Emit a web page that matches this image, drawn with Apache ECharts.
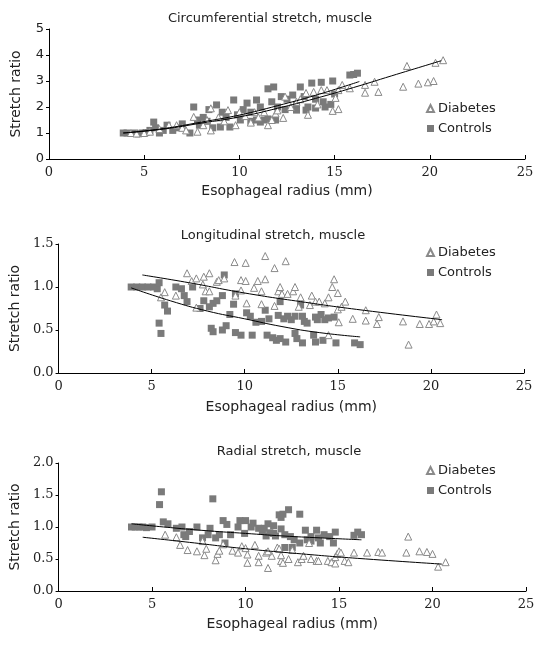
<!DOCTYPE html>
<html>
<head>
<meta charset="utf-8">
<script src="https://cdn.jsdelivr.net/npm/echarts@6/dist/echarts.min.js"></script>
<style>html,body{margin:0;padding:0;background:#fff}#c{width:541px;height:645px}</style>
</head>
<body>
<div id="c"></div>
<script>
// ---------- data ----------
const panelTitles = ['Circumferential stretch, muscle', 'Longitudinal stretch, muscle', 'Radial stretch, muscle'];
const xAxisName = 'Esophageal radius (mm)';
const yAxisName = 'Stretch ratio';
const seriesNames = ['Diabetes', 'Controls'];
const xTicks = [0, 5, 10, 15, 20, 25];
const yRanges = [[0, 5, 1], [0, 1.5, 0.5], [0, 2, 0.5]];

// Panel 1: circumferential
const circControls = [[3.9,1.0],[4.1,1.0],[4.3,0.98],[4.5,1.0],[4.7,0.97],[4.9,1.0],[5.1,1.02],[5.3,1.1],[5.5,1.42],[5.6,1.2],[5.8,1.0],[6.0,1.1],[6.2,1.3],[6.5,1.1],[6.8,1.2],[7.0,1.35],[7.4,1.0],[7.6,2.0],[7.8,1.5],[7.9,1.3],[8.1,1.6],[8.3,1.45],[8.4,1.9],[8.6,1.2],[8.8,2.08],[9.0,1.23],[9.1,1.8],[9.3,1.6],[9.5,1.23],[9.7,2.27],[9.9,1.7],[10.05,1.5],[10.2,1.9],[10.4,2.15],[10.6,1.45],[10.6,1.8],[10.9,2.27],[10.9,1.5],[11.1,2.0],[11.1,1.42],[11.3,1.5],[11.5,2.7],[11.5,1.54],[11.7,2.2],[11.8,2.77],[11.9,1.5],[12.0,2.0],[12.2,2.4],[12.4,1.9],[12.5,2.3],[12.8,2.46],[13.0,1.88],[13.0,2.1],[13.2,2.77],[13.4,2.4],[13.5,1.88],[13.6,2.0],[13.8,2.92],[14.0,1.96],[14.0,2.3],[14.3,2.95],[14.4,2.2],[14.5,2.0],[14.8,2.1],[14.9,3.0],[15.0,2.5],[15.8,3.23],[16.0,3.25],[16.2,3.3]];
const circDiabetes = [[4.3,1.0],[4.6,0.98],[5.0,1.0],[5.3,1.05],[5.8,1.15],[6.3,1.3],[6.7,1.3],[7.0,1.2],[7.2,1.1],[7.6,1.62],[7.8,1.05],[8.1,1.3],[8.3,1.5],[8.5,1.95],[8.5,1.1],[8.9,1.6],[9.2,1.45],[9.4,1.88],[9.8,1.3],[10.0,1.8],[10.3,1.65],[10.6,1.4],[10.8,1.8],[11.0,1.6],[11.3,1.8],[11.5,1.3],[11.7,1.5],[11.9,1.75],[12.0,1.87],[12.3,1.58],[12.4,2.4],[12.7,2.0],[13.0,2.2],[13.2,2.3],[13.5,2.54],[13.6,1.7],[13.9,2.58],[14.1,2.1],[14.3,2.65],[14.6,2.65],[14.9,1.85],[15.05,2.35],[15.2,1.92],[15.2,2.65],[15.4,2.85],[15.8,2.72],[16.6,2.85],[16.6,2.55],[17.1,2.97],[17.3,2.58],[18.6,2.78],[18.8,3.58],[19.4,2.9],[19.9,2.95],[20.2,3.0],[20.3,3.7],[20.7,3.8]];
const circFitControls = [[3.9,1.0],[6,1.17],[8,1.42],[10,1.69],[12,2.05],[14,2.45],[16.3,2.98]];
const circFitDiabetes = [[3.9,1.0],[6,1.15],[8,1.38],[10,1.62],[12,1.95],[14,2.33],[16,2.75],[18,3.2],[20.6,3.78]];

// Panel 2: longitudinal
const longControls = [[3.9,1.0],[4.2,1.0],[4.5,1.0],[4.8,1.0],[5.1,1.0],[5.3,0.98],[5.4,1.05],[5.4,0.58],[5.5,0.46],[5.7,0.79],[5.85,0.72],[6.3,1.0],[6.6,0.98],[6.75,0.9],[6.9,0.83],[7.2,1.0],[7.6,0.75],[7.8,0.84],[8.1,0.77],[8.2,0.52],[8.3,0.48],[8.3,0.81],[8.5,0.84],[8.8,0.9],[8.8,0.5],[9.0,0.55],[8.9,1.14],[9.2,0.68],[9.4,0.8],[9.5,0.92],[9.5,0.47],[9.8,0.44],[10.1,0.7],[10.3,0.66],[10.4,0.44],[10.6,0.59],[10.9,0.6],[11.1,0.73],[11.3,0.63],[11.2,0.44],[11.5,0.41],[11.7,0.38],[11.9,0.4],[11.8,0.67],[12.1,0.63],[12.3,0.66],[11.9,0.83],[12.2,0.36],[12.5,0.62],[12.7,0.66],[12.7,0.46],[12.8,0.4],[13.1,0.35],[13.0,0.79],[13.1,0.66],[13.2,0.6],[13.35,0.58],[13.7,0.44],[13.8,0.65],[13.9,0.62],[13.8,0.36],[14.2,0.38],[14.1,0.68],[14.3,0.62],[14.5,0.64],[14.8,0.65],[14.9,0.35],[15.9,0.35],[16.2,0.33]];
const longDiabetes = [[5.5,0.88],[5.7,0.94],[6.3,0.9],[6.9,1.16],[7.15,1.07],[7.4,1.1],[7.4,0.76],[7.75,1.03],[7.8,1.12],[7.9,0.95],[8.1,1.16],[8.1,0.95],[8.5,1.06],[8.6,1.08],[8.9,1.1],[9.45,1.29],[9.5,0.9],[9.8,1.08],[9.8,0.96],[10.05,1.28],[10.05,1.07],[10.1,0.81],[10.5,0.99],[10.7,1.07],[10.9,0.95],[10.9,0.8],[11.1,1.09],[11.1,1.36],[11.6,1.22],[11.6,0.78],[11.8,0.95],[11.9,1.0],[12.0,0.92],[12.2,1.3],[12.3,0.92],[12.6,0.95],[12.7,1.0],[12.9,0.77],[13.0,0.88],[13.5,0.79],[13.6,0.9],[13.8,0.83],[14.0,0.83],[14.3,0.81],[14.5,0.44],[14.5,0.88],[14.7,1.0],[14.8,1.09],[15.0,0.93],[15.0,0.74],[15.05,0.59],[15.2,0.77],[15.4,0.83],[15.8,0.63],[16.5,0.73],[16.5,0.61],[17.1,0.57],[17.2,0.65],[18.5,0.6],[18.8,0.33],[19.4,0.57],[19.9,0.57],[20.15,0.6],[20.3,0.68],[20.5,0.58]];
const longFitControls = [[3.9,0.99],[6,0.84],[8,0.72],[10,0.63],[12,0.54],[14,0.47],[16.2,0.42]];
const longFitDiabetes = [[4.5,1.14],[7,1.05],[10,0.93],[13,0.83],[16,0.74],[20.6,0.62]];

// Panel 3: radial
const radControls = [[3.9,1.0],[4.1,1.0],[4.3,1.0],[4.5,1.0],[4.7,0.99],[5.0,1.0],[5.4,1.35],[5.5,1.55],[5.6,1.08],[5.85,1.05],[6.3,0.98],[6.6,1.0],[6.7,0.88],[6.8,0.85],[7.0,0.93],[7.4,1.0],[7.7,0.83],[8.0,0.88],[8.25,1.44],[8.1,0.98],[8.4,0.83],[8.6,0.88],[8.8,1.1],[9.0,1.04],[8.9,0.75],[9.2,0.88],[9.6,1.0],[9.7,1.1],[9.95,0.9],[10.0,1.1],[10.4,1.06],[10.3,1.0],[10.7,0.98],[10.9,0.93],[11.0,0.98],[11.1,0.86],[11.2,1.05],[11.3,0.91],[11.5,0.9],[11.5,1.02],[11.6,0.86],[11.8,1.19],[11.9,1.15],[11.9,0.97],[12.0,1.2],[12.1,0.88],[12.1,0.68],[12.3,1.27],[12.4,0.85],[12.5,0.68],[12.6,0.8],[12.9,1.2],[12.9,0.75],[13.2,0.95],[13.3,0.8],[13.5,0.78],[13.5,0.85],[13.8,0.95],[13.9,0.83],[14.0,0.75],[14.2,0.88],[14.5,0.85],[14.7,0.75],[14.8,0.92],[15.8,0.87],[16.0,0.92],[16.2,0.88]];
const radDiabetes = [[5.7,0.88],[6.3,0.84],[6.5,0.72],[6.9,0.64],[7.4,0.62],[7.7,0.78],[7.8,0.56],[7.9,0.66],[8.4,0.48],[8.5,0.58],[8.6,0.63],[8.8,0.73],[9.3,0.63],[9.6,0.6],[9.8,0.7],[10.0,0.67],[10.1,0.57],[10.1,0.44],[10.5,0.72],[10.7,0.55],[10.7,0.45],[11.1,0.6],[11.2,0.36],[11.4,0.55],[11.2,0.62],[11.7,0.68],[11.8,0.66],[11.9,0.47],[11.9,0.56],[12.0,0.44],[12.3,0.5],[12.5,0.64],[12.8,0.45],[13.0,0.5],[13.1,0.55],[13.4,0.75],[13.5,0.5],[13.8,0.47],[13.9,0.47],[14.4,0.47],[14.6,0.45],[14.8,0.43],[14.8,0.53],[14.9,0.58],[15.0,0.62],[15.1,0.6],[15.3,0.47],[15.5,0.45],[15.8,0.6],[16.5,0.6],[17.1,0.61],[17.3,0.6],[18.6,0.6],[18.7,0.85],[19.3,0.62],[19.7,0.61],[20.0,0.58],[20.3,0.38],[20.7,0.45]];
const radFitControls = [[3.9,1.05],[6,0.99],[8,0.94],[10,0.9],[12,0.86],[14,0.83],[16.2,0.8]];
const radFitDiabetes = [[4.5,0.84],[7,0.76],[10,0.66],[13,0.58],[16,0.51],[20.5,0.42]];

const panels = [
  {controls: circControls, diabetes: circDiabetes, fitC: circFitControls, fitD: circFitDiabetes},
  {controls: longControls, diabetes: longDiabetes, fitC: longFitControls, fitD: longFitDiabetes},
  {controls: radControls, diabetes: radDiabetes, fitC: radFitControls, fitD: radFitDiabetes}
];

// ---------- layout / style ----------
const grids = [
  {left: 49, top: 29, width: 476, height: 130},
  {left: 54, top: 244, width: 470, height: 129},
  {left: 54, top: 463, width: 472, height: 128}
];
const titlePos = [[270, 19], [273, 236], [289, 452]];
const legendTops = [97, 241, 459];
const xNameGaps = [25, 27, 26];
const yNameGaps = [26, 29, 29];
const yDecimals = [0, 1, 1];
const textColor = '#222';
const sansFont = 'DejaVu Sans';
const tickFont = 'DejaVu Serif';

const option = {
  animation: false,
  backgroundColor: '#fff',
  grid: grids.map(g => Object.assign({containLabel: false}, g)),
  graphic: panelTitles.map((t, i) => ({
    type: 'text', x: titlePos[i][0], y: titlePos[i][1],
    style: {text: t, font: '13px "' + sansFont + '"', fill: textColor, textAlign: 'center', textVerticalAlign: 'middle'}
  })),
  legend: legendTops.map(t => ({
    data: seriesNames, orient: 'vertical', left: 421, top: t,
    itemWidth: 7, itemHeight: 7, itemGap: 7,
    textStyle: {fontFamily: sansFont, fontSize: 13, color: textColor, padding: [0, 0, 0, -1]},
    selectedMode: false
  })),
  xAxis: grids.map((g, i) => ({
    gridIndex: i, type: 'value', min: xTicks[0], max: xTicks[xTicks.length - 1], interval: 5,
    name: xAxisName, nameLocation: 'middle', nameGap: xNameGaps[i],
    nameTextStyle: {fontFamily: sansFont, fontSize: 14, color: textColor},
    axisLine: {lineStyle: {color: '#000', width: 1}},
    axisTick: {inside: true, length: 4, lineStyle: {color: '#000'}},
    axisLabel: {fontFamily: tickFont, fontSize: 13, color: textColor, margin: 7},
    splitLine: {show: false}
  })),
  yAxis: grids.map((g, i) => ({
    gridIndex: i, type: 'value', min: yRanges[i][0], max: yRanges[i][1], interval: yRanges[i][2],
    name: yAxisName, nameLocation: 'middle', nameGap: yNameGaps[i], nameRotate: 90,
    nameTextStyle: {fontFamily: sansFont, fontSize: 14, color: textColor},
    axisLine: {show: true, lineStyle: {color: '#000', width: 1}},
    axisTick: {show: true, inside: false, length: 3, lineStyle: {color: '#000'}},
    axisLabel: {fontFamily: i === 0 ? sansFont : tickFont, fontSize: 13, color: textColor, margin: 5,
      formatter: v => v.toFixed(yDecimals[i])},
    splitLine: {show: false}
  })),
  series: []
};

panels.forEach((p, i) => {
  option.series.push({
    name: 'Controls', type: 'scatter', xAxisIndex: i, yAxisIndex: i, data: p.controls,
    symbol: 'rect', symbolSize: 7, itemStyle: {color: '#7a7a7a', opacity: 1}, z: 2
  });
  option.series.push({
    name: 'Diabetes', type: 'scatter', xAxisIndex: i, yAxisIndex: i, data: p.diabetes,
    symbol: 'triangle', symbolSize: 7, itemStyle: {color: '#fff', borderColor: '#8a8a8a', borderWidth: 1, opacity: 1}, z: 3
  });
  option.series.push({
    name: 'fitC' + i, type: 'line', xAxisIndex: i, yAxisIndex: i, data: p.fitC,
    smooth: true, symbol: 'none', lineStyle: {color: '#000', width: 1}, z: 4, silent: true
  });
  option.series.push({
    name: 'fitD' + i, type: 'line', xAxisIndex: i, yAxisIndex: i, data: p.fitD,
    smooth: true, symbol: 'none', lineStyle: {color: '#000', width: 1}, z: 4, silent: true
  });
});

const chart = echarts.init(document.getElementById('c'), null, {renderer: 'canvas'});
chart.setOption(option);
</script>
</body>
</html>
